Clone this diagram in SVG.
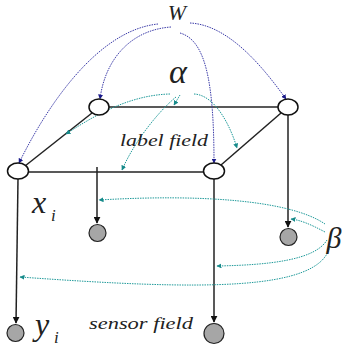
<svg xmlns="http://www.w3.org/2000/svg" width="344" height="354" viewBox="0 0 344 354">
<style>
.e{stroke:#222;stroke-width:1.5;fill:none}
.on{fill:#fff;stroke:#111;stroke-width:1.5}
.gn{fill:#a6a6a6;stroke:#222;stroke-width:1.2}
.b{stroke:#3a3aa8;stroke-width:1;fill:none;stroke-dasharray:1.5 1}
.t{stroke:#1f9a9a;stroke-width:1;fill:none;stroke-dasharray:1.5 1}
.lbl{font-family:"Liberation Serif","DejaVu Serif",serif;font-style:italic;fill:#222}
</style>
<defs>
<marker id="ab" viewBox="0 0 10 10" refX="9" refY="5" markerWidth="7" markerHeight="7" orient="auto" markerUnits="userSpaceOnUse"><path d="M0,0L10,5L0,10z" fill="#111"/></marker>
<marker id="au" viewBox="0 0 10 10" refX="9" refY="5" markerWidth="5" markerHeight="5" orient="auto" markerUnits="userSpaceOnUse"><path d="M0,0L10,5L0,10z" fill="#1a1a8a"/></marker>
<marker id="at" viewBox="0 0 10 10" refX="9" refY="5" markerWidth="5" markerHeight="5" orient="auto" markerUnits="userSpaceOnUse"><path d="M0,0L10,5L0,10z" fill="#168a8a"/></marker>
</defs>
<g id="connectors">
<path class="e" d="M109,107H278"/>
<path class="e" d="M28,172H203"/>
<path class="e" d="M92,113L25,166"/>
<path class="e" d="M281,113L221,165"/>
<path class="e" d="M18,179L16,323" marker-end="url(#ab)"/>
<path class="e" d="M97,167L97,223" marker-end="url(#ab)"/>
<path class="e" d="M288,115L288,227" marker-end="url(#ab)"/>
<path class="e" d="M214,179L214,322" marker-end="url(#ab)"/>
<path class="b" d="M158,24C100,30 50,100 19,163" marker-end="url(#au)"/>
<path class="b" d="M171,27C130,30 105,60 100,99" marker-end="url(#au)"/>
<path class="b" d="M180,33C205,40 214,80 214,163" marker-end="url(#au)"/>
<path class="b" d="M190,23C230,25 265,70 286,99" marker-end="url(#au)"/>
<path class="t" d="M170,94C130,95 95,115 66,134" marker-end="url(#at)"/>
<path class="t" d="M180,95L174,105" marker-end="url(#at)"/>
<path class="t" d="M176,97C160,110 135,140 122,170" marker-end="url(#at)"/>
<path class="t" d="M194,94C215,95 230,125 237,148" marker-end="url(#at)"/>
<path class="t" d="M325,224C290,200 200,194 99,200" marker-end="url(#at)"/>
<path class="t" d="M325,232C310,224 300,220 291,219" marker-end="url(#at)"/>
<path class="t" d="M327,240C315,260 270,265 217,266" marker-end="url(#at)"/>
<path class="t" d="M330,246C320,292 200,290 20,277" marker-end="url(#at)"/>
</g>
<g id="n_tl"><ellipse class="on" cx="99" cy="107" rx="10" ry="8"/></g>
<g id="n_tr"><ellipse class="on" cx="288" cy="107" rx="10" ry="8"/></g>
<g id="n_bl"><ellipse class="on" cx="18" cy="171" rx="10.5" ry="8"/></g>
<g id="n_br"><ellipse class="on" cx="214" cy="171" rx="10.5" ry="8"/></g>
<g id="s_mid"><circle class="gn" cx="97.5" cy="233" r="8.5"/></g>
<g id="s_right"><circle class="gn" cx="288.5" cy="237" r="8.5"/></g>
<g id="s_bl"><circle class="gn" cx="15.5" cy="333" r="8.5"/></g>
<g id="s_br"><circle class="gn" cx="214" cy="333.5" r="10"/></g>
<g id="W"><text class="lbl" x="177" y="20" font-size="22" text-anchor="middle">W</text></g>
<g id="alpha"><text class="lbl" x="178" y="83" font-size="34" text-anchor="middle">α</text></g>
<g id="labelfield"><text class="lbl" x="164" y="146" font-size="16" text-anchor="middle" textLength="88" lengthAdjust="spacingAndGlyphs">label field</text></g>
<g id="sensorfield"><text class="lbl" x="141" y="329" font-size="16" text-anchor="middle" textLength="104" lengthAdjust="spacingAndGlyphs">sensor field</text></g>
<g id="xi"><text class="lbl" x="32" y="213" font-size="32">x</text><text class="lbl" x="51" y="221" font-size="17">i</text></g>
<g id="yi"><text class="lbl" x="35" y="335" font-size="32">y</text><text class="lbl" x="54" y="343" font-size="17">i</text></g>
<g id="beta"><text class="lbl" x="334" y="248" font-size="30" text-anchor="middle">β</text></g>
</svg>
